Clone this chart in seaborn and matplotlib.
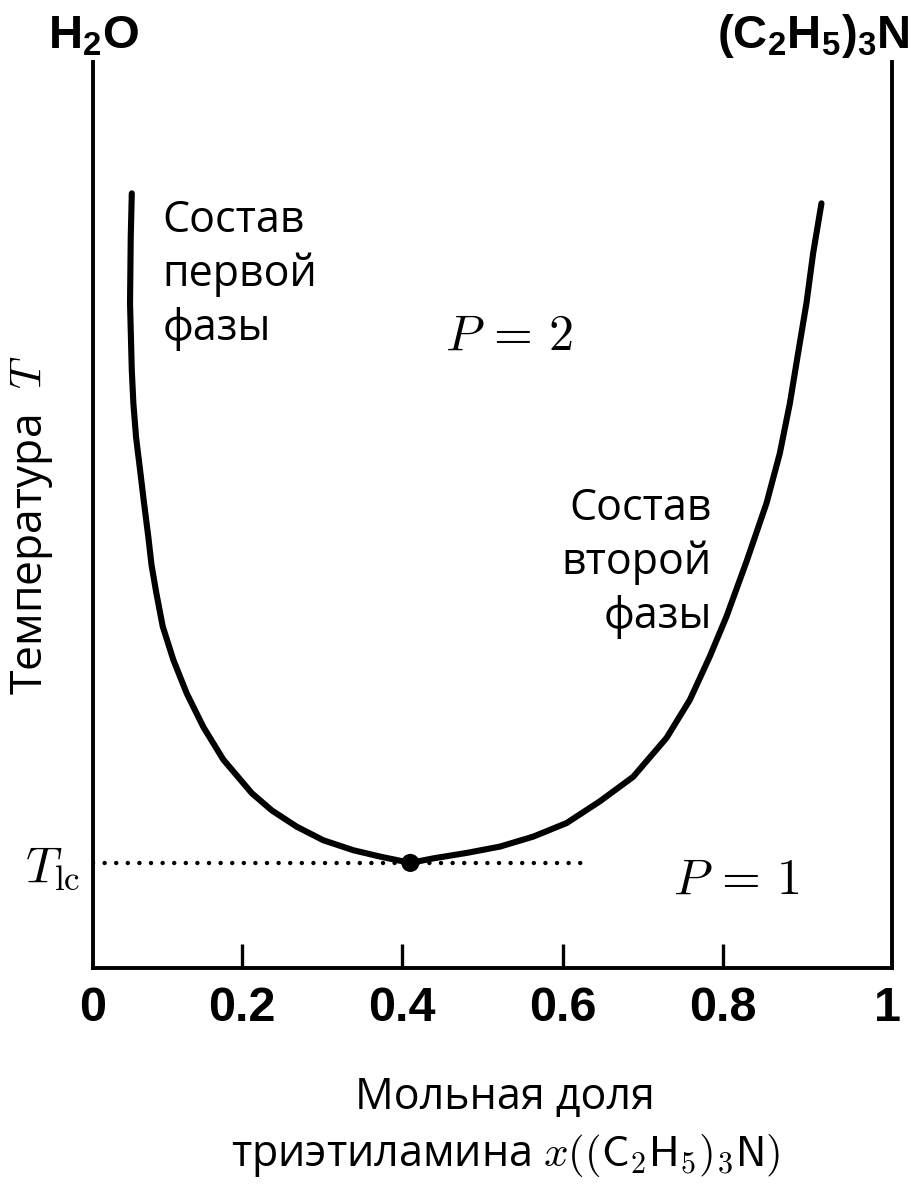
import matplotlib
matplotlib.use("Agg")
import matplotlib.pyplot as plt
import seaborn as sns

# ---- data ----
curve_x = [0.0624, 0.0611, 0.0602, 0.0624, 0.0644, 0.0677, 0.0727, 0.0777, 0.0830,
           0.0870, 0.0930, 0.1010, 0.1143, 0.1310, 0.1517, 0.1766, 0.2121, 0.2370,
           0.2682, 0.3014, 0.3388, 0.3721, 0.4100,
           0.4386, 0.4802, 0.5218, 0.5633, 0.6050, 0.6465, 0.6880, 0.7297, 0.7588,
           0.7837, 0.8045, 0.8300, 0.8544, 0.8710, 0.8835, 0.8939, 0.9043, 0.9126,
           0.9230]
curve_T = [85.5, 80.7, 73.4, 66.0, 62.3, 58.6, 55.0, 51.3, 47.6,
           44.5, 41.4, 37.7, 34.0, 30.3, 26.6, 23.0, 19.3, 17.4,
           15.6, 14.1, 13.0, 12.3, 11.6,
           12.1, 12.7, 13.4, 14.5, 16.0, 18.4, 21.1, 25.4, 29.6,
           34.4, 38.8, 45.0, 51.3, 56.8, 62.3, 67.9, 73.4, 78.9,
           84.4]
critical_x = [0.410]
critical_T = [11.6]
tie_x = [0.014, 0.627]
tie_T = [11.6, 11.6]

xtick_vals = [0.2, 0.4, 0.6, 0.8]
xtick_labels = ["0.2", "0.4", "0.6", "0.8"]
edge_vals = [0.014, 1.006]
edge_labels = ["0", "1"]
ytick_vals = [11.6]
ytick_labels = [r"$T_{\rm lc}$"]

left_formula = r"H$_2$O"
right_formula = r"(C$_2$H$_5$)$_3$N"
first_phase = "Состав\nпервой\nфазы"
second_phase = "Состав\nвторой\nфазы"
p2_label = r"$P\,=\,2$"
p1_label = r"$P\,=\,1$"
x_label = "Мольная доля\nтриэтиламина $x((\\mathsf{C}_\\mathsf{2}\\mathsf{H}_\\mathsf{5})_\\mathsf{3}\\mathsf{N})$"
y_label = "Температура $\\ T$"

# ---- style ----
sns.set_theme(style="ticks")
plt.rcParams.update({
    "font.family": ["Open Sans", "DejaVu Sans"],
    "mathtext.fontset": "custom",
    "mathtext.rm": "Liberation Sans:bold",
    "mathtext.it": "Liberation Sans:italic:bold",
    "mathtext.bf": "Liberation Sans:bold",
    "mathtext.sf": "Liberation Sans:bold",
    "text.color": "black",
    "axes.labelcolor": "black",
    "xtick.color": "black",
    "ytick.color": "black",
    "xtick.labelcolor": "black",
    "ytick.labelcolor": "black",
    "axes.edgecolor": "black",
})

fig = plt.figure(figsize=(9.12, 11.85), dpi=100)
ax = fig.add_axes([93 / 912, 217 / 1185, 799 / 912, 906 / 1185])

sns.lineplot(x=curve_x, y=curve_T, sort=False, estimator=None, color="black",
             linewidth=4.4, ax=ax, zorder=3)
ax.lines[-1].set_solid_joinstyle("round")
ax.lines[-1].set_solid_capstyle("round")
ax.plot(tie_x, tie_T, color="black", linewidth=3.2, linestyle=(0, (0.01, 2.6)),
        dash_capstyle="round", zorder=2)
sns.scatterplot(x=critical_x, y=critical_T, s=170, color="black", edgecolor="none",
                ax=ax, zorder=4)

ax.set_xlim(0.014, 1.011)
ax.set_ylim(0, 100)

for side in ["left", "right", "bottom"]:
    ax.spines[side].set_linewidth(2.8)
    ax.spines[side].set_color("black")
ax.spines["top"].set_visible(False)

ax.set_xticks(xtick_vals)
ax.set_xticklabels(xtick_labels)
ax.set_xticks(edge_vals, minor=True)
ax.set_xticklabels(edge_labels, minor=True)
ax.tick_params(axis="x", which="major", direction="in", length=17, width=2.4,
               color="black", labelcolor="black", pad=13, labelsize=35)
ax.tick_params(axis="x", which="minor", direction="in", length=0, pad=13,
               labelcolor="black", labelsize=35)
for lbl in ax.get_xticklabels(which="both"):
    lbl.set_fontweight("bold")
    lbl.set_family("Liberation Sans")

ax.set_yticks(ytick_vals)
ax.set_yticklabels(ytick_labels)
ax.tick_params(axis="y", which="both", length=0, pad=9, labelsize=36, right=False,
               labelcolor="black")
for lbl in ax.get_yticklabels():
    lbl.set_math_fontfamily("cm")

ax.set_xlabel(x_label, fontsize=31, linespacing=1.35, color="black")
ax.xaxis.label.set_math_fontfamily("cm")
ax.xaxis.set_label_coords(0.516, -0.119)

ax.set_ylabel(y_label, fontsize=32, color="black")
ax.yaxis.label.set_math_fontfamily("cm")
ax.yaxis.set_label_coords(-0.047, 0.489)

# compound names above the two vertical axes
ax.text(0.0, 1 + 14 / 906, left_formula, transform=ax.transAxes, ha="center",
        va="baseline", fontsize=34, fontweight="bold", family="Liberation Sans")
ax.text(1.0225, 1 + 14 / 906, right_formula, transform=ax.transAxes, ha="right",
        va="baseline", fontsize=34, fontweight="bold", family="Liberation Sans")

# annotations (va='baseline' anchors the last line's baseline)
ax.text(0.1003, 69.3, first_phase, ha="left", va="baseline", fontsize=31,
        linespacing=1.28)
ax.text(0.786, 37.5, second_phase, ha="right", va="baseline", fontsize=31,
        linespacing=1.28, multialignment="right")
ax.text(0.533, 69.6, p2_label, ha="center", va="center", fontsize=36, math_fontfamily="cm")
ax.text(0.817, 9.6, p1_label, ha="center", va="center", fontsize=36, math_fontfamily="cm")

fig.savefig("out.png", dpi=100, facecolor="white")
